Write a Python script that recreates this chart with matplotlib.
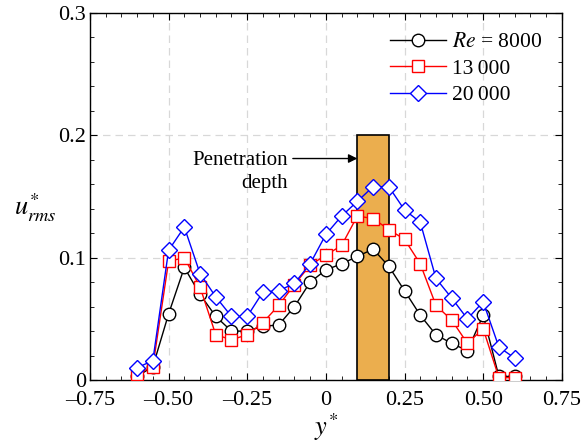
import numpy as np
from matplotlib import pyplot as plt
from matplotlib.ticker import MultipleLocator, FixedFormatter, FixedLocator

plt.rcParams['font.family'] = ['Liberation Serif', 'DejaVu Serif']
plt.rcParams['mathtext.fontset'] = 'stix'

y_pos = np.round(np.arange(-0.6, 0.601, 0.05), 2)

u_8000 = [0.003, 0.011, 0.054, 0.092, 0.070, 0.052, 0.040, 0.040, 0.044, 0.045,
          0.060, 0.080, 0.090, 0.095, 0.101, 0.107, 0.093, 0.073, 0.053, 0.037,
          0.030, 0.024, 0.053, 0.003, 0.003]
u_13000 = [0.005, 0.011, 0.097, 0.100, 0.076, 0.037, 0.033, 0.037, 0.047, 0.061,
           0.078, 0.094, 0.102, 0.110, 0.134, 0.132, 0.123, 0.115, 0.095, 0.061,
           0.049, 0.030, 0.042, 0.002, 0.002]
u_20000 = [0.010, 0.016, 0.106, 0.125, 0.087, 0.068, 0.052, 0.052, 0.072, 0.073,
           0.079, 0.095, 0.119, 0.134, 0.146, 0.158, 0.158, 0.139, 0.129, 0.083,
           0.067, 0.050, 0.064, 0.027, 0.018]

depth_start = 0.1
depth_end = 0.2
depth_height = 0.2

fig = plt.figure(figsize=(5.84, 4.43), dpi=100)
ax = fig.add_axes([0.154, 0.142, 0.808, 0.829])

ax.bar((depth_start + depth_end) / 2, depth_height, width=depth_end - depth_start,
       color='#EBAE4E', edgecolor='black', linewidth=1.2, zorder=3)

ax.plot(y_pos, u_8000, 'k-', marker='o', ms=9, mfc='white', mec='black', mew=1.0,
        lw=1.0, label='$\\mathit{Re}$ = 8000', zorder=4)
ax.plot(y_pos, u_13000, 'r-', marker='s', ms=8, mfc='white', mec='red', mew=1.0,
        lw=1.0, label='13\u2009000', zorder=5)
ax.plot(y_pos, u_20000, 'b-', marker='D', ms=8, mfc='white', mec='blue', mew=1.0,
        lw=1.0, label='20\u2009000', zorder=6)

# label and horizontal arrow pointing at the bar
ax.text(-0.12, 0.170, 'Penetration\ndepth', ha='right', va='center', fontsize=15,
        linespacing=1.35, zorder=7)
ax.annotate('', xy=(0.1, 0.181), xytext=(-0.105, 0.181),
            arrowprops=dict(arrowstyle='-|>', color='black', lw=1.0,
                            shrinkA=0, shrinkB=0, mutation_scale=13),
            zorder=7)

ax.set_xlim(-0.75, 0.75)
ax.set_ylim(0, 0.3)
ax.xaxis.set_major_locator(FixedLocator([-0.75, -0.5, -0.25, 0, 0.25, 0.5, 0.75]))
ax.xaxis.set_major_formatter(FixedFormatter(['\u20130.75', '\u20130.50', '\u20130.25', '0',
                                             '0.25', '0.50', '0.75']))
ax.xaxis.set_minor_locator(MultipleLocator(0.05))
ax.yaxis.set_major_locator(FixedLocator([0, 0.1, 0.2, 0.3]))
ax.yaxis.set_major_formatter(FixedFormatter(['0', '0.1', '0.2', '0.3']))
ax.yaxis.set_minor_locator(MultipleLocator(0.02))
ax.tick_params(which='both', direction='in', top=True, right=True, labelsize=16)
ax.tick_params(axis='x', pad=8)
ax.tick_params(axis='y', pad=3)
ax.tick_params(which='major', length=5)
ax.tick_params(which='minor', length=3)
ax.grid(True, which='major', ls=(0, (6, 4)), color='#d8d8d8', lw=0.9)
ax.set_axisbelow(True)
for s in ax.spines.values():
    s.set_linewidth(1.0)

ax.set_xlabel('$y^{*}$', fontsize=19, labelpad=1)
ax.set_ylabel('$u^{*}_{rms}$', fontsize=19, rotation=0, va='center')
ax.yaxis.set_label_coords(-0.115, 0.47)

ax.legend(loc='upper right', frameon=False, fontsize=15.5, handlelength=2.6,
          borderaxespad=0.5, labelspacing=0.3, handletextpad=0.3)

fig.savefig('out.png', dpi=100)
